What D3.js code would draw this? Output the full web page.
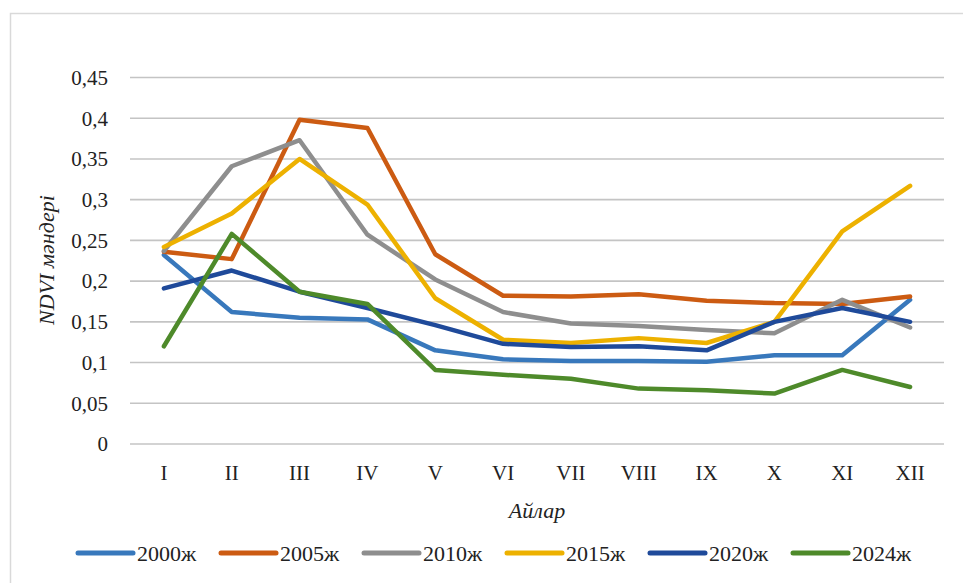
<!DOCTYPE html>
<html>
<head>
<meta charset="utf-8">
<script src="https://cdn.jsdelivr.net/npm/d3@7"></script>
<style>
    body { margin: 0; background: #fff; }
    svg { display: block; font-family: "Liberation Serif", "DejaVu Serif", serif; }
</style>
</head>
<body>
<svg id="chart" width="963" height="583"></svg>
<script>
// months (x axis)
var months = ['I', 'II', 'III', 'IV', 'V', 'VI', 'VII', 'VIII', 'IX', 'X', 'XI', 'XII'];
var yTicks = [0, 0.05, 0.1, 0.15, 0.2, 0.25, 0.3, 0.35, 0.4, 0.45];

var seriesNames = ['2000ж', '2005ж', '2010ж', '2015ж', '2020ж', '2024ж'];
var seriesColors = ['#3878BC', '#CC5B12', '#8E8E8E', '#EDB100', '#1F4A9A', '#4E8A2A'];

var v2000 = [0.232, 0.162, 0.155, 0.153, 0.115, 0.104, 0.102, 0.102, 0.101, 0.109, 0.109, 0.177];
var v2005 = [0.236, 0.227, 0.398, 0.388, 0.233, 0.182, 0.181, 0.184, 0.176, 0.173, 0.172, 0.181];
var v2010 = [0.237, 0.341, 0.373, 0.257, 0.202, 0.162, 0.148, 0.145, 0.140, 0.136, 0.177, 0.143];
var v2015 = [0.242, 0.283, 0.350, 0.294, 0.179, 0.128, 0.124, 0.130, 0.124, 0.150, 0.261, 0.317];
var v2020 = [0.191, 0.213, 0.187, 0.167, 0.146, 0.123, 0.119, 0.120, 0.115, 0.150, 0.167, 0.150];
var v2024 = [0.120, 0.258, 0.187, 0.172, 0.091, 0.085, 0.080, 0.068, 0.066, 0.062, 0.091, 0.070];

var allValues = [v2000, v2005, v2010, v2015, v2020, v2024];

d3.select(window).on('load', init);

function init() {
    var svg = d3.select('#chart');

    // chart frame (right and bottom edges fall outside the picture)
    svg.append('rect')
        .attr('x', 10.5).attr('y', 13.5)
        .attr('width', 980).attr('height', 600)
        .attr('fill', '#fff')
        .attr('stroke', '#D9D9D9')
        .attr('stroke-width', 1.5);

    var xScale = d3.scaleBand()
        .domain(months)
        .range([130, 944])
        .padding(0);

    var yScale = d3.scaleLinear()
        .domain([0, 0.45])
        .range([444, 77.5]);

    function xc(m) { return xScale(m) + xScale.bandwidth() / 2; }

    // gridlines
    svg.append('g')
        .selectAll('line')
        .data(yTicks)
        .enter()
        .append('line')
        .attr('x1', 130).attr('x2', 944)
        .attr('y1', function(d) { return yScale(d); })
        .attr('y2', function(d) { return yScale(d); })
        .attr('stroke', '#C4C4C4')
        .attr('stroke-width', 1.6);

    // y tick labels
    svg.append('g')
        .selectAll('text')
        .data(yTicks)
        .enter()
        .append('text')
        .attr('x', 108)
        .attr('y', function(d) { return yScale(d); })
        .attr('dy', '0.35em')
        .attr('text-anchor', 'end')
        .attr('font-size', 21)
        .attr('fill', '#222')
        .text(function(d) { return String(d).replace('.', ','); });

    // x tick labels
    svg.append('g')
        .selectAll('text')
        .data(months)
        .enter()
        .append('text')
        .attr('x', function(d) { return xc(d); })
        .attr('y', 480)
        .attr('text-anchor', 'middle')
        .attr('font-size', 21)
        .attr('fill', '#222')
        .text(function(d) { return d; });

    // axis titles
    svg.append('text')
        .attr('x', 537).attr('y', 518)
        .attr('text-anchor', 'middle')
        .attr('font-size', 22)
        .attr('font-style', 'italic')
        .attr('fill', '#222')
        .text('Айлар');

    svg.append('text')
        .attr('transform', 'translate(54,260) rotate(-90)')
        .attr('text-anchor', 'middle')
        .attr('font-size', 22)
        .attr('font-style', 'italic')
        .attr('fill', '#222')
        .text('NDVI мәндері');

    // lines
    var line = d3.line()
        .x(function(d, i) { return xc(months[i]); })
        .y(function(d) { return yScale(d); });

    svg.append('g')
        .selectAll('path')
        .data(allValues)
        .enter()
        .append('path')
        .attr('d', line)
        .attr('fill', 'none')
        .attr('stroke', function(d, i) { return seriesColors[i]; })
        .attr('stroke-width', 4.5)
        .attr('stroke-linejoin', 'round')
        .attr('stroke-linecap', 'round');

    // legend
    var legend = svg.append('g')
        .selectAll('g')
        .data(seriesNames)
        .enter()
        .append('g')
        .attr('transform', function(d, i) { return 'translate(' + (78 + i * 143) + ',553)'; });

    legend.append('line')
        .attr('x1', 0).attr('x2', 55)
        .attr('y1', 0).attr('y2', 0)
        .attr('stroke', function(d, i) { return seriesColors[i]; })
        .attr('stroke-width', 5)
        .attr('stroke-linecap', 'round');

    legend.append('text')
        .attr('x', 59).attr('y', 8)
        .attr('font-size', 22)
        .attr('fill', '#222')
        .text(function(d) { return d; });
}
</script>
</body>
</html>
